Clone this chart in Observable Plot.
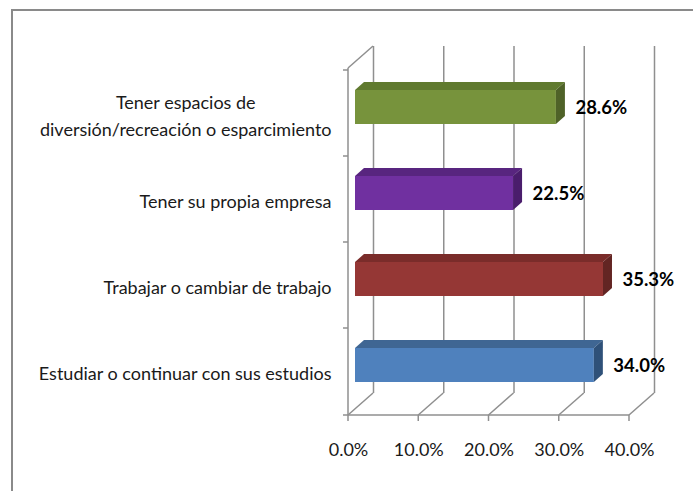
<!DOCTYPE html>
<html><head><meta charset="utf-8">
<script src="https://cdn.jsdelivr.net/npm/d3@7"></script>
<script src="https://cdn.jsdelivr.net/npm/@observablehq/plot@0.6"></script>
<style>
html,body{margin:0;padding:0;background:#fff;}
#wrap{position:relative;width:693px;height:491px;overflow:hidden;}
#border{position:absolute;left:11px;top:9px;width:800px;height:600px;border-top:2px solid #8a8a8a;border-left:2px solid #8a8a8a;}
#chart{position:absolute;left:0;top:0;}
</style></head><body>
<div id="wrap"><div id="border"></div><div id="chart"></div></div>
<script>
// ---- data ----
const categories = [
  "Tener espacios de\ndiversión/recreación o esparcimiento",
  "Tener su propia empresa",
  "Trabajar o cambiar de trabajo",
  "Estudiar o continuar con sus estudios"
];
const values = [28.6, 22.5, 35.3, 34.0];
const xTicks = [0, 10, 20, 30, 40];

const rows = categories.map((cat, i) => ({cat, value: values[i]}));

// ---- style ----
const FONT = 'Lato, "Liberation Sans", sans-serif';
const FS = 18;
const GRID = "#8f8f8f";
const WALL = {dx: 25, dy: -22};
const BAR = {dx: 7, dy: -6, depthX: 9, depthY: -8, face: 34};
const FRONT = ["#77933C", "#7030A0", "#953735", "#4F81BD"];
const TOP   = ["#607A2F", "#58257F", "#7A2C2A", "#3F6693"];
const SIDE  = ["#4F6228", "#4A1D6C", "#632523", "#2F5179"];
const fmt = d => d.toFixed(1) + "%";

function wireframe(index, scales, vals, dims) {
  const {x, y} = scales;
  const top = dims.marginTop, bottom = dims.height - dims.marginBottom;
  const x0 = x(xTicks[0]), xN = x(xTicks[xTicks.length - 1]);
  const g = d3.create("svg:g").attr("stroke", GRID).attr("stroke-width", 1.5).attr("fill", "none");
  const line = (a, b, c, d) => g.append("line").attr("x1", a).attr("y1", b).attr("x2", c).attr("y2", d);
  line(x0, bottom, xN, bottom);
  for (const t of xTicks) {
    line(x(t), bottom, x(t) + WALL.dx, bottom + WALL.dy);
    line(x(t), bottom, x(t), bottom + 6);
  }
  line(x0, top, x0, bottom);
  line(x0, top, x0 + WALL.dx, top + WALL.dy);
  for (const c of categories) line(x0 - 5, y(c), x0, y(c));
  line(x0 - 5, bottom, x0, bottom);
  return g.node();
}

function bars3d(index, scales, vals) {
  const bw = scales.y.bandwidth();
  const g = d3.create("svg:g");
  for (const i of index) {
    const k = categories.indexOf(rows[i].cat);
    const X0 = vals.x1[i] + BAR.dx, X1 = vals.x2[i] + BAR.dx;
    const Yt = vals.y[i] + bw / 2 - BAR.face / 2 + BAR.dy, Yb = Yt + BAR.face;
    const ex = BAR.depthX, ey = BAR.depthY;
    g.append("rect").attr("x", X0).attr("y", Yt).attr("width", X1 - X0).attr("height", BAR.face).attr("fill", FRONT[k]);
    g.append("polygon").attr("points", [[X0, Yt], [X1, Yt], [X1 + ex, Yt + ey], [X0 + ex, Yt + ey]].join(" ")).attr("fill", TOP[k]);
    g.append("polygon").attr("points", [[X1, Yt], [X1 + ex, Yt + ey], [X1 + ex, Yb + ey], [X1, Yb]].join(" ")).attr("fill", SIDE[k]);
  }
  return g.node();
}

const chart = Plot.plot({
  width: 693, height: 491,
  marginLeft: 348, marginRight: 64, marginTop: 68, marginBottom: 76,
  x: {domain: [0, 40]},
  y: {domain: categories, padding: 0},
  style: {fontFamily: FONT, fontSize: FS + "px", color: "#1a1a1a", background: "transparent", overflow: "visible"},
  marks: [
    Plot.ruleX(xTicks, {x: d => d, stroke: GRID, strokeWidth: 1.5, dx: WALL.dx, dy: WALL.dy}),
    wireframe,
    Plot.axisX({ticks: xTicks, tickFormat: fmt, tickSize: 0, tickPadding: 28, label: null, fontSize: FS}),
    Plot.axisY({tickSize: 0, tickPadding: 17, label: null, fontSize: FS, lineHeight: 1.5}),
    Plot.barX(rows, {x: "value", y: "cat", render: bars3d}),
    Plot.text(rows, {x: "value", y: "cat", text: d => fmt(d.value), dx: 26, dy: -5, textAnchor: "start",
      fontWeight: "bold", fontSize: 18.5, fill: "#000"})
  ]
});
document.getElementById("chart").appendChild(chart);

// center the lines of multi-line category labels (as in the original)
chart.querySelectorAll("g[aria-label='y-axis tick label'] text").forEach(t => {
  const spans = t.querySelectorAll("tspan");
  if (spans.length < 2) return;
  let w = 0;
  spans.forEach(s => { w = Math.max(w, s.getComputedTextLength()); });
  t.setAttribute("text-anchor", "middle");
  t.setAttribute("transform", (t.getAttribute("transform") || "") + ` translate(${-w / 2},0)`);
});
</script>
</body></html>
